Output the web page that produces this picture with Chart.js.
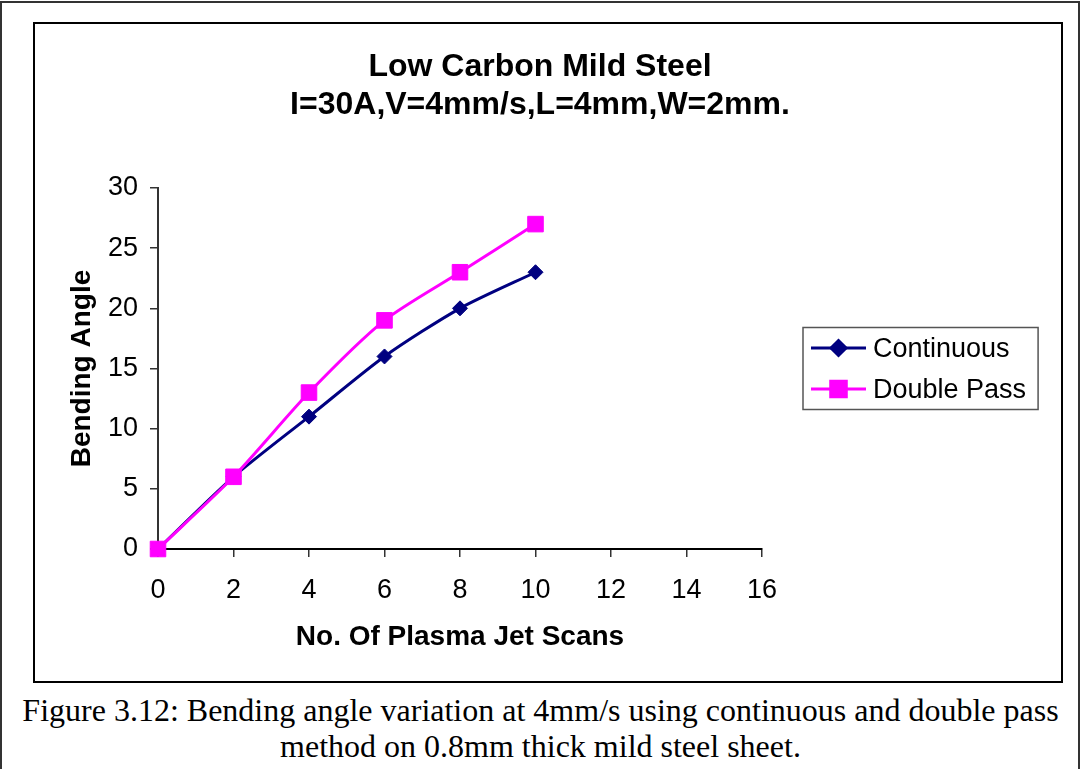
<!DOCTYPE html>
<html>
<head>
<meta charset="utf-8">
<script src="https://cdn.jsdelivr.net/npm/chart.js@4/dist/chart.umd.min.js"></script>
<style>
  html, body { margin: 0; padding: 0; background: #fff; }
  #page { position: relative; width: 1081px; height: 769px; overflow: hidden; }
  #outer { position: absolute; left: 0; top: 1px; width: 1080px; height: 790px;
           box-sizing: border-box; border: 2px solid #333; }
  #box { position: absolute; left: 33px; top: 22px; width: 1030px; height: 661px;
         box-sizing: border-box; border: 2px solid #000; }
  #box canvas { position: absolute; left: 0; top: 0; }
  #caption { position: absolute; left: 0; top: 692px; width: 1081px; text-align: center;
             font-family: "Liberation Serif", "Times New Roman", serif; font-size: 32px;
             line-height: 36px; color: #000; }
</style>
</head>
<body>
<div id="page">
  <div id="outer"></div>
  <div id="box"><canvas id="chart" width="1026" height="657"></canvas></div>
  <div id="caption">Figure 3.12: Bending angle variation at 4mm/s using continuous and double pass<br>method on 0.8mm thick mild steel sheet.</div>
</div>
<script>
    "use strict";

    // Data
    var scans = [0, 2, 4, 6, 8, 10];
    var continuous = [0, 6, 11, 16, 20, 23];
    var doublePass = [0, 6, 13, 19, 23, 27];
    var seriesNames = ["Continuous", "Double Pass"];
    var titleLines = ["Low Carbon Mild Steel", "I=30A,V=4mm/s,L=4mm,W=2mm."];

    var FONT = "'Liberation Sans', Arial, sans-serif";

    function toPoints(ys) {
        return scans.map(function (x, i) { return {x: x, y: ys[i]}; });
    }

    // Legend with line + marker, boxed, right of the plot
    var sideLegend = {
        id: "sideLegend",
        afterDraw: function (chart) {
            var ctx = chart.ctx;
            var area = chart.chartArea;
            var sets = chart.data.datasets;
            ctx.save();
            ctx.font = "27px " + FONT;
            var maxW = 0;
            sets.forEach(function (ds) { maxW = Math.max(maxW, ctx.measureText(ds.label).width); });
            var rowH = 41;
            var w = 8 + 55 + 7 + maxW + 12;
            var h = rowH * sets.length;
            var left = area.right + 41;
            var top = (area.top + area.bottom) / 2 - h / 2;
            ctx.strokeStyle = "#555";
            ctx.lineWidth = 1.5;
            ctx.strokeRect(left, top, w, h);
            sets.forEach(function (ds, i) {
                var cy = top + rowH / 2 + i * rowH;
                ctx.strokeStyle = ds.borderColor;
                ctx.lineWidth = ds.borderWidth;
                ctx.beginPath();
                ctx.moveTo(left + 8, cy);
                ctx.lineTo(left + 63, cy);
                ctx.stroke();
                ctx.fillStyle = ds.pointBackgroundColor;
                ctx.strokeStyle = ds.pointBorderColor;
                Chart.helpers.drawPoint(ctx, {
                    pointStyle: ds.pointStyle,
                    radius: ds.pointRadius,
                    borderWidth: 1,
                    rotation: 0
                }, left + 35.5, cy);
                ctx.fillStyle = "#000";
                ctx.textBaseline = "middle";
                ctx.textAlign = "left";
                ctx.fillText(ds.label, left + 70, cy + 2);
            });
            ctx.restore();
        }
    };

    var ctx1 = document.getElementById("chart").getContext("2d");
    var myChart1 = new Chart(ctx1, {
        type: "line",
        data: {
            datasets: [{
                    label: seriesNames[0],
                    data: toPoints(continuous),
                    order: 2,
                    borderColor: "#000080",
                    backgroundColor: "#000080",
                    pointBackgroundColor: "#000080",
                    pointBorderColor: "#000080",
                    borderWidth: 3,
                    pointStyle: "rectRot",
                    pointRadius: 7.5,
                    pointBorderWidth: 1,
                    tension: 0.25,
                    clip: false
                },
                {
                    label: seriesNames[1],
                    data: toPoints(doublePass),
                    order: 1,
                    borderColor: "#FF00FF",
                    backgroundColor: "#FF00FF",
                    pointBackgroundColor: "#FF00FF",
                    pointBorderColor: "#FF00FF",
                    borderWidth: 3,
                    pointStyle: "rect",
                    pointRadius: 11,
                    pointBorderWidth: 1,
                    tension: 0.25,
                    clip: false
                }
            ]
        },
        options: {
            responsive: false,
            animation: false,
            layout: { padding: { left: 0, right: 16, top: 0, bottom: 0 } },
            plugins: {
                legend: { display: false },
                tooltip: { enabled: false },
                title: {
                    display: true,
                    text: titleLines,
                    color: "#000",
                    font: { family: FONT, size: 32, weight: "bold", lineHeight: 1.2 },
                    padding: { top: 24, bottom: 63.2 }
                }
            },
            scales: {
                x: {
                    type: "linear",
                    min: 0,
                    max: 16,
                    afterFit: function (s) { s.height = 132; },
                    ticks: { stepSize: 2, color: "#000", padding: 17,
                             font: { family: FONT, size: 27 } },
                    grid: { drawOnChartArea: false, drawTicks: true, tickLength: 8, color: "#333", lineWidth: 1.5 },
                    border: { color: "#000", width: 2 },
                    title: {
                        display: true,
                        text: "No. Of Plasma Jet Scans",
                        color: "#000",
                        font: { family: FONT, size: 28, weight: "bold", lineHeight: 1.2 },
                        padding: { top: 0, bottom: 27 }
                    }
                },
                y: {
                    min: 0,
                    max: 30,
                    afterFit: function (s) { s.width = 123; },
                    ticks: { stepSize: 5, color: "#000", padding: 12,
                             font: { family: FONT, size: 27 } },
                    grid: { drawOnChartArea: false, drawTicks: true, tickLength: 8, color: "#333", lineWidth: 1.5 },
                    border: { color: "#333", width: 2 },
                    title: {
                        display: true,
                        text: "Bending Angle",
                        color: "#000",
                        font: { family: FONT, size: 28, weight: "bold", lineHeight: 1.2 },
                        padding: { top: 30, bottom: 0 }
                    }
                },
                // empty right axis that reserves room for the legend
                side: {
                    position: "right",
                    afterFit: function (s) { s.width = 283; },
                    ticks: { display: false },
                    grid: { display: false },
                    border: { display: false }
                }
            }
        },
        plugins: [sideLegend]
    });
</script>
</body>
</html>
